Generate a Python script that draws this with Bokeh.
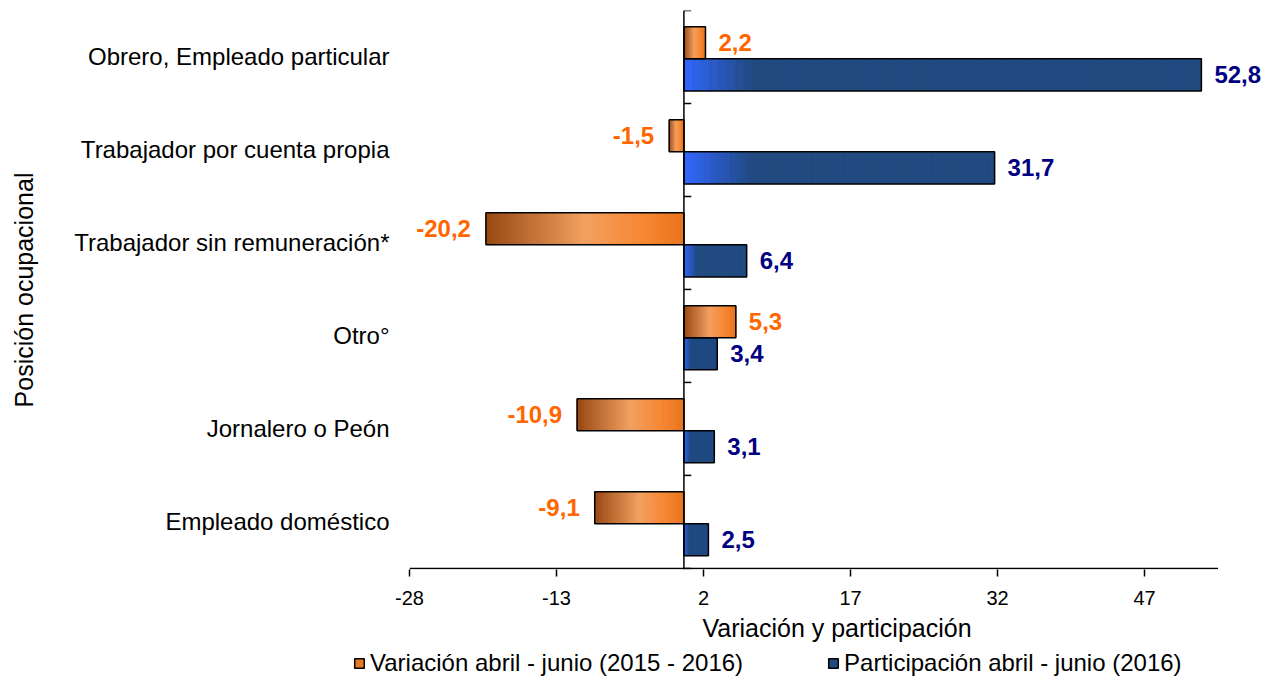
from bokeh.plotting import figure
from bokeh.layouts import column
from bokeh.models import ColumnDataSource, FixedTicker, Span, Legend, LegendItem
from bokeh.core.properties import value
from bokeh.embed import file_html
from bokeh.resources import INLINE

# ---------------- data ----------------
categories = ["Obrero, Empleado particular", "Trabajador por cuenta propia",
              "Trabajador sin remuneración*", "Otro°", "Jornalero o Peón",
              "Empleado doméstico"]
variacion = [2.2, -1.5, -20.2, 5.3, -10.9, -9.1]
participacion = [52.8, 31.7, 6.4, 3.4, 3.1, 2.5]
x_ticks = [-28, -13, 2, 17, 32, 47]
x_tick_labels = [str(t) for t in x_ticks]
series_names = ["Variación abril - junio (2015 - 2016)",
                "Participación abril - junio (2016)"]
x_title = "Variación y participación"
y_title = "Posición ocupacional"

# ---------------- style ----------------
FONT = "Liberation Sans"
ORANGE_TXT = "#FF6600"
BLUE_TXT = "#000080"
BAR_H = 0.345
OFF_OR = 0.1525
OFF_BL = -0.1925
X_MIN, AXIS_END, X_VIEW_END = -28, 54.5, 59.24   # frame extends past axis end for labels
Y_PAD = 0.012

n = len(categories)
ypos = [n - 1 - i for i in range(n)]

p = figure(width=1264, height=648, x_range=(X_MIN, X_VIEW_END),
           y_range=(-0.5 - Y_PAD, n - 0.5),
           output_backend="svg", toolbar_location=None,
           min_border_left=409, min_border_right=0, min_border_top=10,
           min_border_bottom=79)
p.grid.visible = False
p.outline_line_color = None
p.background_fill_color = "white"


def lerp(c0, c1, t):
    t = max(0.0, min(1.0, t))
    return tuple(int(round(a + (b - a) * t)) for a, b in zip(c0, c1))


def grad(stops, t):
    for (t0, c0), (t1, c1) in zip(stops[:-1], stops[1:]):
        if t <= t1:
            return lerp(c0, c1, (t - t0) / (t1 - t0))
    return stops[-1][1]


def hexc(c):
    return "#%02x%02x%02x" % c


OR_STOPS = [(0.0, (150, 72, 18)), (0.5, (242, 160, 96)), (0.8, (247, 135, 50)),
            (1.0, (232, 116, 30))]
BL_BRIGHT = (51, 102, 255)
BL_DARK = (32, 74, 128)
NS = 60


def slice_source(values, off, kind):
    L, R, Y, C = [], [], [], []
    for v, y in zip(values, ypos):
        lo, hi = min(0, v), max(0, v)
        w = (hi - lo) / NS
        tw = min(7.0, 0.22 * (hi - lo))
        for k in range(NS):
            xm = lo + (k + 0.5) * w
            if kind == "or":
                col = grad(OR_STOPS, (k + 0.5) / NS)
            else:
                col = lerp(BL_BRIGHT, BL_DARK, (xm - lo) / tw)
            L.append(lo + k * w)
            R.append(lo + (k + 1) * w)
            Y.append(y + off)
            C.append(hexc(col))
    return ColumnDataSource(dict(left=L, right=R, y=Y, color=C))


src_or = ColumnDataSource(dict(y=[y + OFF_OR for y in ypos], right=variacion,
                               left=[0] * n))
src_bl = ColumnDataSource(dict(y=[y + OFF_BL for y in ypos], right=participacion,
                               left=[0] * n))

# gradient slices
for src in (slice_source(variacion, OFF_OR, "or"), slice_source(participacion, OFF_BL, "bl")):
    p.hbar(y="y", left="left", right="right", height=BAR_H - 0.01, source=src,
           fill_color="color", line_color="color", line_width=1)

# outlines
for src in (src_or, src_bl):
    p.hbar(y="y", left="left", right="right", height=BAR_H, source=src,
           fill_alpha=0, line_color="black", line_width=1.5)

# vertical axis at zero with ticks between categories
p.add_layout(Span(location=0, dimension="height", line_color="black", line_width=1.5))
bounds = [k - 0.5 for k in range(n + 1)]
p.segment(x0=[0] * len(bounds), x1=[0.75] * len(bounds), y0=bounds, y1=bounds,
          line_color="black", line_width=1.5)
# horizontal axis line (ends where the reference axis ends)
p.segment(x0=[X_MIN], x1=[AXIS_END], y0=[-0.5], y1=[-0.5], line_color="black",
          line_width=1.5)


def fmt(v):
    return f"{v:.1f}".replace(".", ",")


def add_labels(values, off, color):
    pos = [(v, y + off) for v, y in zip(values, ypos) if v >= 0]
    neg = [(v, y + off) for v, y in zip(values, ypos) if v < 0]
    for group, xo, align in ((pos, 13, "left"), (neg, -15, "right")):
        if not group:
            continue
        s = ColumnDataSource(dict(x=[g[0] for g in group], y=[g[1] for g in group],
                                  t=[fmt(g[0]) for g in group]))
        p.text(x="x", y="y", text="t", source=s, x_offset=xo,
               text_align=align, text_baseline="middle",
               text_font=value(FONT), text_font_style="bold",
               text_font_size="24px", text_color=color)


add_labels(variacion, OFF_OR, ORANGE_TXT)
add_labels(participacion, OFF_BL, BLUE_TXT)

# axes
xa = p.xaxis[0]
xa.ticker = FixedTicker(ticks=x_ticks)
xa.major_label_overrides = {t: s for t, s in zip(x_ticks, x_tick_labels)}
xa.axis_line_color = None
xa.major_tick_line_color = "black"
xa.major_tick_line_width = 1.5
xa.major_tick_out = 7
xa.major_tick_in = 0
xa.minor_tick_line_color = None
xa.major_label_standoff = 14
xa.major_label_text_font = FONT
xa.major_label_text_font_size = "20px"
xa.major_label_text_color = "black"
xa.axis_label = x_title
xa.axis_label_text_font = FONT
xa.axis_label_text_font_size = "25px"
xa.axis_label_text_font_style = "normal"
xa.axis_label_text_color = "black"
xa.axis_label_standoff = 6

ya = p.yaxis[0]
ya.ticker = FixedTicker(ticks=ypos)
ya.major_label_overrides = {y: c for y, c in zip(ypos, categories)}
ya.axis_line_color = None
ya.major_tick_line_color = None
ya.minor_tick_line_color = None
ya.major_label_standoff = 14
ya.major_label_text_font = FONT
ya.major_label_text_font_size = "24px"
ya.major_label_text_color = "black"
ya.axis_label = y_title
ya.axis_label_text_font = FONT
ya.axis_label_text_font_size = "25px"
ya.axis_label_text_font_style = "normal"
ya.axis_label_text_color = "black"
ya.axis_label_standoff = 33

# ---------------- legend strip ----------------
leg = figure(width=1264, height=29, x_range=(0, 1), y_range=(0, 1),
             x_axis_type=None, y_axis_type=None, output_backend="svg",
             toolbar_location=None, min_border=0)
leg.grid.visible = False
leg.outline_line_color = None
for fig in (p, leg):
    if "frame_align" in fig.properties():
        fig.frame_align = False
# one row far outside the view each, so the legend swatches are drawn
hidden = dict(y=[-50], left=[50], right=[50.1])
lr_or = leg.hbar(y="y", left="left", right="right", height=0.5,
                 source=ColumnDataSource(hidden), fill_color="#E47A26",
                 line_color="black", line_width=1.5)
lr_bl = leg.hbar(y="y", left="left", right="right", height=0.5,
                 source=ColumnDataSource(hidden), fill_color="#204A80",
                 line_color="black", line_width=1.5)
legend = Legend(items=[LegendItem(label=series_names[0], renderers=[lr_or]),
                       LegendItem(label=series_names[1], renderers=[lr_bl])],
                orientation="horizontal", location=(353, 0),
                label_text_font=FONT, label_text_font_size="24px",
                label_text_color="black",
                glyph_width=12, glyph_height=12, label_standoff=5, spacing=84,
                padding=0, margin=0, border_line_color=None,
                background_fill_alpha=0)
leg.add_layout(legend)

page = column(p, leg, spacing=0)
open("out.html", "w").write(file_html(page, INLINE))
